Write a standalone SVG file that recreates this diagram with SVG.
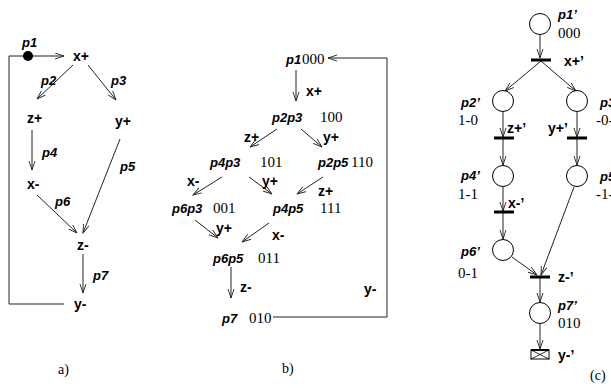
<svg xmlns="http://www.w3.org/2000/svg" width="611" height="388" viewBox="0 0 611 388">
<style>
.b{font-family:"Liberation Sans",Arial,sans-serif;font-weight:bold;font-size:14px;fill:#000}
.p{font-family:"Liberation Sans",Arial,sans-serif;font-weight:bold;font-style:italic;font-size:13px;fill:#000}
.n{font-family:"Liberation Serif","Times New Roman",serif;font-size:15px;fill:#000}
.c{font-family:"Liberation Serif","Times New Roman",serif;font-size:14px;fill:#000}
.l{stroke:#222;stroke-width:1;fill:none}
.a{stroke:#222;stroke-width:1;fill:none;marker-end:url(#ah)}
.pl{fill:#fff;stroke:#000;stroke-width:1}
.t{fill:#000}
</style>
<defs>
<marker id="ah" markerUnits="userSpaceOnUse" markerWidth="12" markerHeight="8" refX="9" refY="3.5" orient="auto">
<path d="M0,0.5 L9,3.5 L0,6.5" fill="none" stroke="#222" stroke-width="0.9"/>
</marker>
</defs>
<rect width="611" height="388" fill="#fff"/>

<!-- Panel a -->
<g id="a-connectors">
<path class="a" d="M9,304 L9,56 L64,56"/>
<path class="l" d="M9,304 L64,304"/>
<path class="a" d="M73,65 L37,99"/>
<path class="a" d="M88,65 L116,100"/>
<path class="a" d="M32,130 L32,170"/>
<path class="a" d="M120,139 L83,233"/>
<path class="a" d="M37,195 L77,233"/>
<path class="a" d="M83,254 L83,293"/>
</g>
<g id="a-p1"><circle cx="28" cy="56" r="5" fill="#000"/><text class="p" x="22" y="47">p1</text></g>
<g id="a-xplus"><text class="b" x="73" y="61">x+</text></g>
<g id="a-zplus"><text class="b" x="27" y="123">z+</text></g>
<g id="a-yplus"><text class="b" x="115" y="126">y+</text></g>
<g id="a-xminus"><text class="b" x="27" y="189">x-</text></g>
<g id="a-zminus"><text class="b" x="77" y="250">z-</text></g>
<g id="a-yminus"><text class="b" x="74" y="309">y-</text></g>
<g id="a-labels">
<text class="p" x="41" y="85">p2</text>
<text class="p" x="111" y="85">p3</text>
<text class="p" x="42" y="157">p4</text>
<text class="p" x="120" y="171">p5</text>
<text class="p" x="55" y="206">p6</text>
<text class="p" x="93" y="280">p7</text>
</g>
<text class="c" x="58" y="374">a)</text>

<!-- Panel b -->
<g id="b-connectors">
<path class="a" d="M273,317 L387,317 L387,58 L328,58"/>
<path class="a" d="M296,70 L296,101"/>
<path class="a" d="M277,129 L250,147"/>
<path class="a" d="M301,129 L322,147"/>
<path class="a" d="M222,177 L193,195"/>
<path class="a" d="M249,177 L272,194"/>
<path class="a" d="M323,177 L297,194"/>
<path class="a" d="M195,220 L218,238"/>
<path class="a" d="M269,223 L242,242"/>
<path class="a" d="M231,267 L231,298"/>
</g>
<g id="b-s000"><text class="p" x="286" y="64">p1</text><text class="n" x="302" y="64">000</text></g>
<g id="b-s100"><text class="p" x="272" y="122">p2p3</text><text class="n" x="320" y="122">100</text></g>
<g id="b-s101"><text class="p" x="210" y="167">p4p3</text><text class="n" x="260" y="167">101</text></g>
<g id="b-s110"><text class="p" x="318" y="167">p2p5</text><text class="n" x="351" y="167">110</text></g>
<g id="b-s001"><text class="p" x="172" y="213">p6p3</text><text class="n" x="213" y="213">001</text></g>
<g id="b-s111"><text class="p" x="273" y="213">p4p5</text><text class="n" x="320" y="213">111</text></g>
<g id="b-s011"><text class="p" x="213" y="263">p6p5</text><text class="n" x="258" y="263">011</text></g>
<g id="b-s010"><text class="p" x="222" y="323">p7</text><text class="n" x="249" y="323">010</text></g>
<g id="b-labels">
<text class="b" x="306" y="96">x+</text>
<text class="b" x="244" y="142">z+</text>
<text class="b" x="323" y="142">y+</text>
<text class="b" x="187" y="186">x-</text>
<text class="b" x="262" y="186">y+</text>
<text class="b" x="318" y="196">z+</text>
<text class="b" x="216" y="233">y+</text>
<text class="b" x="272" y="240">x-</text>
<text class="b" x="240" y="292">z-</text>
<text class="b" x="364" y="294">y-</text>
</g>
<text class="c" x="282" y="373">b)</text>

<!-- Panel c -->
<g id="c-connectors">
<path class="a" d="M540,35 L540,58"/>
<path class="a" d="M541,61 L505,91"/>
<path class="a" d="M541,61 L576,91"/>
<path class="a" d="M503,112 L503,137"/>
<path class="a" d="M503,139 L503,165"/>
<path class="a" d="M577,112 L577,137"/>
<path class="a" d="M577,139 L577,165"/>
<path class="a" d="M503,187 L503,211"/>
<path class="a" d="M503,213 L503,239"/>
<path class="a" d="M512,257 L537,275"/>
<path class="a" d="M574,187 L541,275"/>
<path class="a" d="M540,278 L540,302"/>
<path class="a" d="M540,324 L540,349"/>
</g>
<g id="c-p1"><circle class="pl" cx="540" cy="24" r="10.5"/><text class="p" x="558" y="19">p1’</text><text class="n" x="558" y="38">000</text></g>
<g id="c-xplus"><rect class="t" x="531" y="58.5" width="20" height="3"/><text class="b" x="564" y="66">x+’</text></g>
<g id="c-p2"><circle class="pl" cx="503" cy="101" r="10.5"/><text class="p" x="461" y="107">p2’</text><text class="n" x="458" y="125">1-0</text></g>
<g id="c-p3"><circle class="pl" cx="577" cy="101" r="10.5"/><text class="p" x="600" y="107">p3’</text><text class="n" x="596" y="125">-0-</text></g>
<g id="c-zplus"><rect class="t" x="494" y="136.5" width="20" height="3"/><text class="b" x="507" y="133">z+’</text></g>
<g id="c-yplus"><rect class="t" x="567" y="136.5" width="20" height="3"/><text class="b" x="548" y="133">y+’</text></g>
<g id="c-p4"><circle class="pl" cx="503" cy="176" r="10.5"/><text class="p" x="461" y="180">p4’</text><text class="n" x="458" y="199">1-1</text></g>
<g id="c-p5"><circle class="pl" cx="577" cy="176" r="10.5"/><text class="p" x="600" y="181">p5’</text><text class="n" x="596" y="199">-1-</text></g>
<g id="c-xminus"><rect class="t" x="494" y="210.5" width="20" height="3"/><text class="b" x="508" y="208">x-’</text></g>
<g id="c-p6"><circle class="pl" cx="503" cy="250" r="10.5"/><text class="p" x="461" y="256">p6’</text><text class="n" x="458" y="278">0-1</text></g>
<g id="c-zminus"><rect class="t" x="530" y="275.5" width="20" height="3"/><text class="b" x="558" y="282">z-’</text></g>
<g id="c-p7"><circle class="pl" cx="540" cy="313" r="10.5"/><text class="p" x="558" y="310">p7’</text><text class="n" x="558" y="328">010</text></g>
<g id="c-yminus">
<rect x="531" y="350" width="18" height="9" fill="#fff" stroke="#000" stroke-width="1"/>
<line x1="531" y1="350" x2="549" y2="350" stroke="#000" stroke-width="2"/>
<path d="M531,350 L549,359 M549,350 L531,359" stroke="#000" stroke-width="0.8"/>
<text class="b" x="558" y="360">y-’</text>
</g>
<text class="c" x="590" y="380">(c)</text>
</svg>
